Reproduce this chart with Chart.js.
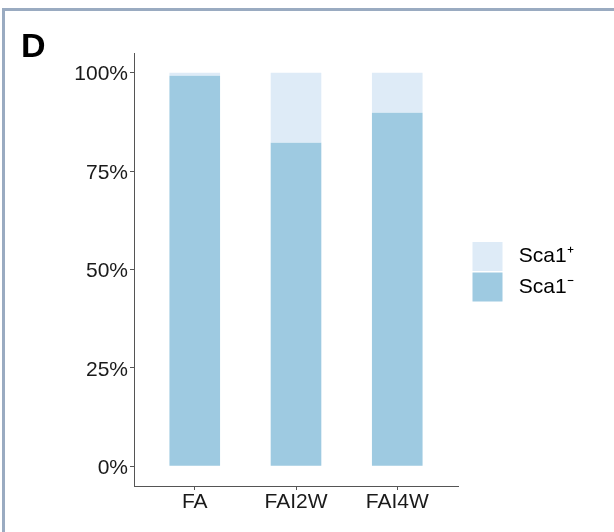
<!DOCTYPE html>
<html>
<head>
<meta charset="utf-8">
<script src="https://cdn.jsdelivr.net/npm/chart.js@4/dist/chart.umd.min.js"></script>
<style>
  html, body { margin: 0; padding: 0; background: #ffffff; }
  #wrap { position: relative; width: 614px; height: 532px; overflow: hidden; background: #fff; }
  #frame { position: absolute; left: 2px; top: 8px; right: -10px; bottom: -10px;
           border-left: 3px solid #9aabc1; border-top: 3px solid #9aabc1; pointer-events: none; }
  #panel { position: absolute; left: 21px; top: 28px; font: bold 34px "Liberation Sans", Arial, sans-serif;
           line-height: 34px; color: #000; }
  canvas { position: absolute; left: 0; top: 0; }
</style>
</head>
<body>
<div id="wrap">
  <canvas id="c" width="614" height="532"></canvas>
  <div id="frame"></div>
  <div id="panel">D</div>
</div>
<script>
// ---- data ----
const categories = ['FA', 'FAI2W', 'FAI4W'];
const seriesNames = ['Sca1\u207A', 'Sca1\u207B'];
const sca1Neg = [99.2, 82.2, 89.8];   // Sca1- share (%)
const sca1Pos = [0.8, 17.8, 10.2];    // Sca1+ share (%)
const yTickValues = [0, 25, 50, 75, 100];

const colNeg = '#9ecae1';
const colPos = '#deebf7';
const fontFamily = '"Liberation Sans", Arial, sans-serif';

const toPoints = arr => arr.map((v, i) => ({ x: i + 1, y: v }));

const legendPlace = {
  id: 'legendPlace',
  afterLayout(chart) {
    const l = chart.legend;
    if (!l) return;
    const w = l.width, h = l.height;
    const pad = l.options.labels.padding;
    l.left = 472.5 - pad;
    l.top = 242 - pad;
    l.right = l.left + w + 40;
    l.bottom = l.top + h + 10;
  }
};

new Chart(document.getElementById('c'), {
  type: 'bar',
  data: {
    datasets: [
      { label: seriesNames[1], data: toPoints(sca1Neg), backgroundColor: colNeg, borderWidth: 0 },
      { label: seriesNames[0], data: toPoints(sca1Pos), backgroundColor: colPos, borderWidth: 0 }
    ]
  },
  options: {
    responsive: false,
    animation: false,
    layout: { padding: { left: 0, top: 53, right: 156, bottom: 0 } },
    datasets: { bar: { barPercentage: 0.5, categoryPercentage: 1.0 } },
    scales: {
      x: {
        type: 'linear',
        stacked: true,
        offset: false,
        min: 0.4,
        max: 3.6,
        afterBuildTicks: s => { s.ticks = [1, 2, 3].map(v => ({ value: v })); },
        afterFit: s => { s.height = 46; },
        ticks: {
          callback: v => categories[v - 1],
          font: { family: fontFamily, size: 21 },
          color: '#1a1a1a',
          padding: 0,
          maxRotation: 0,
          autoSkip: false
        },
        grid: { offset: false, drawOnChartArea: false, drawTicks: true, tickLength: 4, color: '#555' },
        border: { display: true, color: '#555', width: 1 }
      },
      y: {
        type: 'linear',
        stacked: true,
        min: -5,
        max: 105,
        afterBuildTicks: s => { s.ticks = yTickValues.map(v => ({ value: v })); },
        afterFit: s => { s.width = 134; },
        ticks: {
          callback: v => v + '%',
          font: { family: fontFamily, size: 21 },
          color: '#1a1a1a',
          padding: 2,
          labelOffset: 2
        },
        grid: { drawOnChartArea: false, drawTicks: true, tickLength: 4, color: '#555' },
        border: { display: true, color: '#555', width: 1 }
      }
    },
    plugins: {
      tooltip: { enabled: false },
      title: { display: false },
      legend: {
        display: true,
        position: 'chartArea',
        align: 'start',
        reverse: true,
        labels: {
          boxWidth: 30,
          boxHeight: 29,
          padding: 1.5,
          color: '#111',
          font: { family: fontFamily, size: 21 },
          generateLabels: chart => chart.data.datasets.map((d, i) => ({
            text: ' ' + d.label,
            fillStyle: d.backgroundColor,
            strokeStyle: d.backgroundColor,
            lineWidth: 0,
            hidden: false,
            datasetIndex: i
          }))
        }
      }
    }
  },
  plugins: [legendPlace]
});
</script>
</body>
</html>
